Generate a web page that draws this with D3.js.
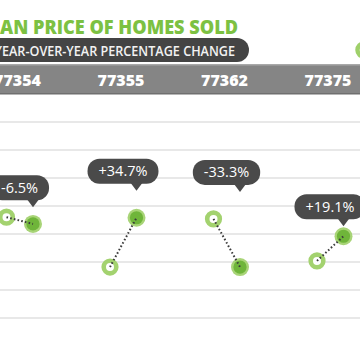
<!DOCTYPE html>
<html><head><meta charset="utf-8">
<script src="https://cdn.jsdelivr.net/npm/d3@7/dist/d3.min.js"></script>
<style>html,body{margin:0;padding:0;background:#fff;overflow:hidden}svg{display:block}</style>
</head><body><svg id="c" width="360" height="360"></svg>
<script>
const zips = ["77354", "77355", "77362", "77375"];
const priceBefore = [280, 191, 277, 202];   // median price, earlier year ($K, est.)
const priceAfter  = [268, 279, 191, 246];   // median price, later year ($K, est.)
const changeLabels = ["-6.5%", "+34.7%", "-33.3%", "+19.1%"];
const gridTicks = [100, 150, 200, 250, 300, 350, 400, 450];
const titleText = "MEDIAN PRICE OF HOMES SOLD";
const subtitleText = "YEAR-OVER-YEAR PERCENTAGE CHANGE";

const svg = d3.select("#c");
const FONT = "'Open Sans', 'DejaVu Sans', sans-serif";
const green = "#7cc142";

const x = d3.scalePoint().domain(zips).range([17.5, 328]);
const y = d3.scaleLinear().domain([100, 450]).range([318, 122]);

function fitText(sel, full, prefixLen, visLeft, right, size, weight) {
  const t = sel.append("text").attr("font-family", FONT).attr("font-size", size)
    .attr("font-weight", weight).text(full.slice(0, prefixLen));
  const wPre = prefixLen ? t.node().getComputedTextLength() : 0;
  t.text(full);
  const wFull = t.node().getComputedTextLength();
  const s = (right - visLeft) / (wFull - wPre);
  const total = wFull * s;
  t.attr("x", right - total).attr("textLength", total).attr("lengthAdjust", "spacingAndGlyphs");
  return t;
}

// title
fitText(svg, titleText, 4, 0, 238, 20, 800).attr("y", 34).attr("fill", green);

// subtitle pill
svg.append("rect").attr("x", -20).attr("y", 38).attr("width", 269).attr("height", 24)
  .attr("rx", 12).attr("fill", "#444444");
fitText(svg, subtitleText, 1, 2, 235, 14.5, 600).attr("y", 55.5).attr("fill", "#f2f2f2");

// partially visible legend marker at right
svg.append("circle").attr("cx", 364).attr("cy", 50).attr("r", 6.5)
  .attr("fill", "#fff").attr("stroke", "#9fd06a").attr("stroke-width", 4.5);

// header band
svg.append("rect").attr("x", 0).attr("y", 64).attr("width", 360).attr("height", 30).attr("fill", "#858585");
svg.append("rect").attr("x", 0).attr("y", 64).attr("width", 360).attr("height", 1.5).attr("fill", "#a9a9a9");
svg.append("rect").attr("x", 0).attr("y", 93).attr("width", 360).attr("height", 1.5).attr("fill", "#6f6f6f");
svg.selectAll("text.zip").data(zips).join("text").attr("class", "zip")
  .attr("x", d => x(d)).attr("y", 86).attr("text-anchor", "middle")
  .attr("font-family", FONT).attr("font-size", 16).attr("font-weight", 800)
  .attr("fill", "#ffffff").text(d => d);

// gridlines
svg.selectAll("line.grid").data(gridTicks).join("line").attr("class", "grid")
  .attr("x1", 0).attr("x2", 360).attr("y1", d => y(d)).attr("y2", d => y(d))
  .attr("stroke", "#e1e1e1").attr("stroke-width", 1.5);

const data = zips.map((z, i) => ({z, b: priceBefore[i], a: priceAfter[i], lab: changeLabels[i]}));
const xb = d => x(d.z) - 11;
const xa = d => x(d.z) + 15.5;

const g = svg.append("g");
g.selectAll("circle.halo").data(data).join("circle")
  .attr("cx", xa).attr("cy", d => y(d.a)).attr("r", 9).attr("fill", "#a8d477");
g.selectAll("circle.fill").data(data).join("circle")
  .attr("cx", xa).attr("cy", d => y(d.a)).attr("r", 6.6).attr("fill", "#6fb53a");
g.selectAll("circle.open").data(data).join("circle")
  .attr("cx", xb).attr("cy", d => y(d.b)).attr("r", 6.3)
  .attr("fill", "#fff").attr("stroke", "#a3d26f").attr("stroke-width", 4.6);
g.selectAll("line.conn").data(data).join("line")
  .attr("x1", xb).attr("y1", d => y(d.b)).attr("x2", xa).attr("y2", d => y(d.a))
  .attr("stroke", "#3c3c3c").attr("stroke-width", 2).attr("stroke-dasharray", "1.6,2.2");

// callouts
data.forEach(d => {
  const tip = Math.min(y(d.a), y(d.b)) - (Math.abs(d.a - d.b) / Math.min(d.a, d.b) > 0.3 ? 27 : 10);
  const bottom = tip - 7, h = 25, top = bottom - h;
  const cx = x(d.z) + 2, px = xa(d);
  const cg = svg.append("g");
  const t = cg.append("text").attr("x", cx).attr("y", top + h / 2 + 5).attr("text-anchor", "middle")
    .attr("font-family", FONT).attr("font-size", 14.5).attr("font-weight", 400)
    .attr("fill", "#fff").text(d.lab);
  const w = t.node().getComputedTextLength() + 22;
  cg.insert("rect", "text").attr("x", cx - w / 2).attr("y", top).attr("width", w).attr("height", h)
    .attr("rx", 12).attr("fill", "#4a4a4a");
  cg.insert("path", "text").attr("d", `M${px - 6},${bottom - 1}L${px + 6},${bottom - 1}L${px},${tip}Z`)
    .attr("fill", "#4a4a4a");
});
</script></body></html>
